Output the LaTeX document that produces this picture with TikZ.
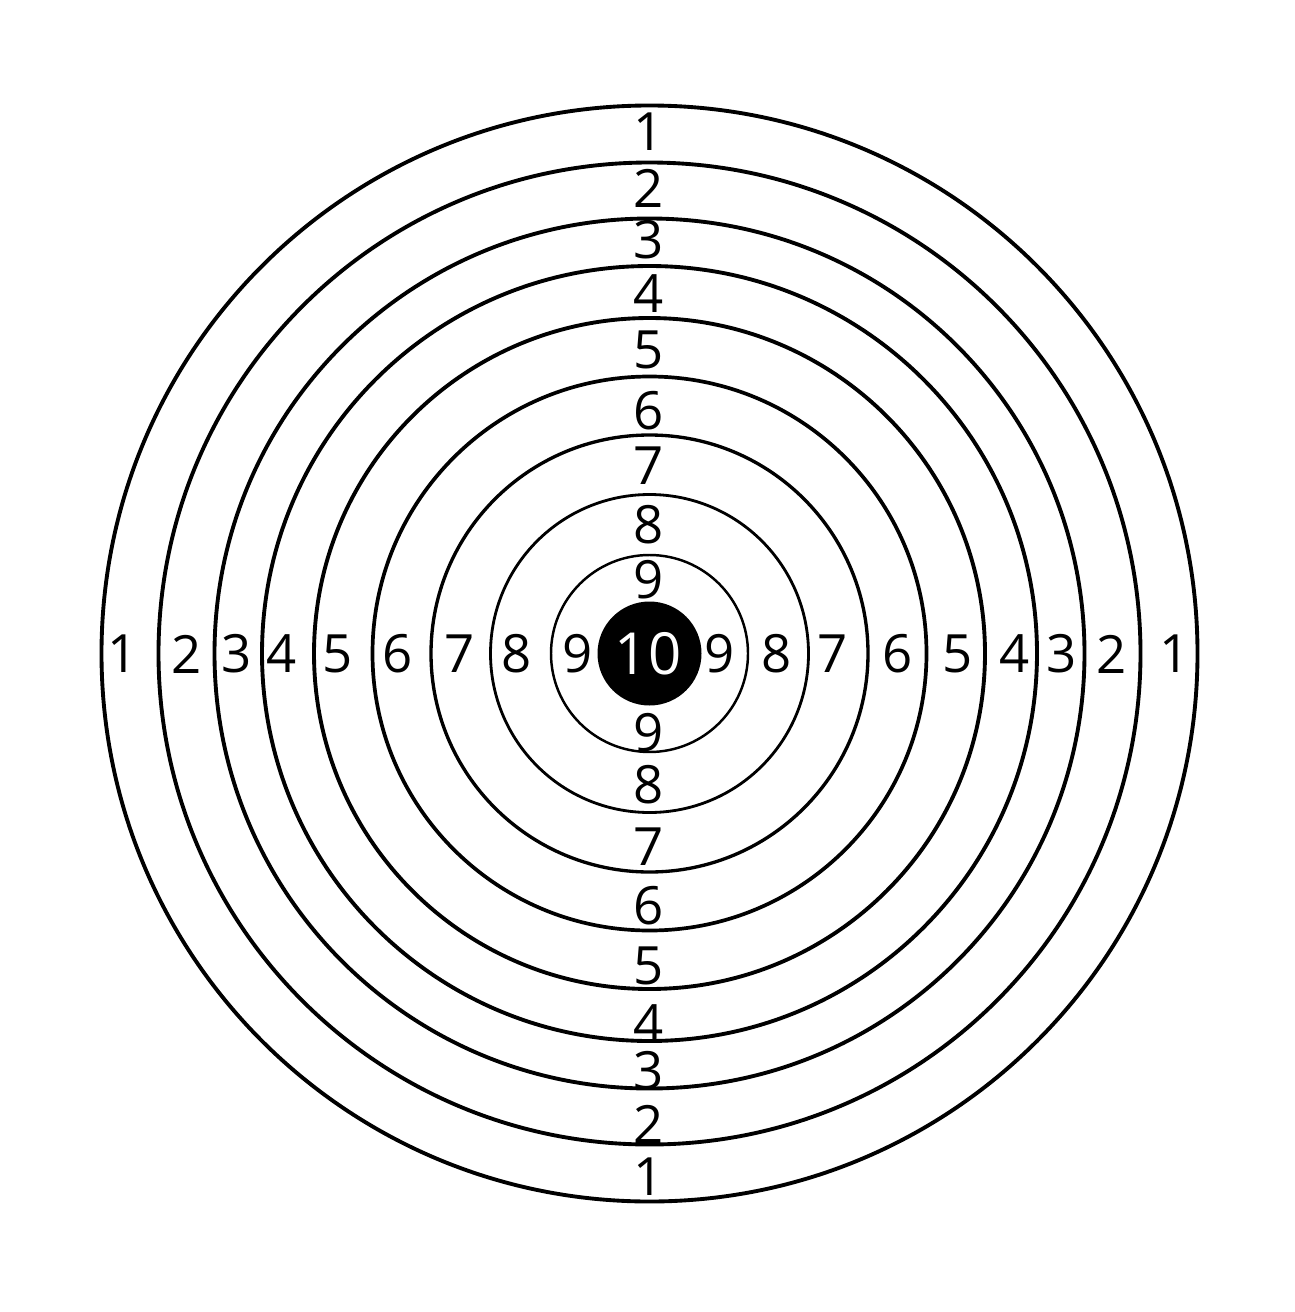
\documentclass[tikz,border=0pt]{standalone}
\usepackage{fontspec}
\setmainfont{Open Sans}
\tikzset{
  ring/.style={draw=black, line width=#1},
  bull/.style={fill=black},
  score/.style={font=\fontsize{15}{15}\selectfont, inner sep=0pt, text=black},
  bullscore/.style={font=\fontsize{16.5}{16.5}\selectfont, inner sep=0pt, text=white},
}

\begin{document}
\begin{tikzpicture}[x=0.01cm,y=-0.01cm]
  \useasboundingbox[fill=white] (0,0) rectangle (1295,1312);
  \coordinate (c) at (649.5,653.5);
  % Ringe 1..9
  \foreach \n/\r/\w in {1/548/1.1pt,2/491/1.1pt,3/435/1.1pt,4/387.5/1.1pt,
                         5/335.5/1.1pt,6/277/1.05pt,7/218.5/0.95pt,8/159/0.8pt,9/98.5/0.7pt}{
    \draw[ring=\w] (c) circle[radius=\r];
  }
  % Zentrum
  \fill[bull] (c) circle[radius=52];
  \node[bullscore] (s10) at (648,654) {10};
  % Zahlen waagrecht
  \foreach \n/\xl/\xr in {1/123/1175,2/187/1112,3/237/1062,4/282/1015,5/338/958,
                          6/398/898,7/460/833,8/517/777,9/578/720}{
    \node[score] (l\n) at (\xl,654) {\n};
    \node[score] (r\n) at (\xr,654) {\n};
  }
  % Zahlen senkrecht
  \foreach \n/\yt/\yb in {1/131.5/1177,2/188.5/1124,3/240/1071,4/294/1024,5/350/966,
                          6/411/906,7/466/847,8/525/785,9/580/733}{
    \node[score] (t\n) at (649,\yt) {\n};
    \node[score] (b\n) at (649,\yb) {\n};
  }
\end{tikzpicture}
\end{document}
